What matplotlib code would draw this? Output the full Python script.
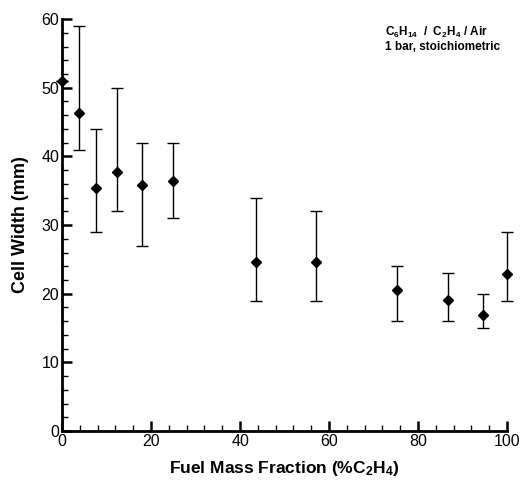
import matplotlib
matplotlib.use('Agg')
import matplotlib.pyplot as plt
from matplotlib.ticker import MultipleLocator

plt.rcParams['font.family'] = ['Liberation Sans', 'DejaVu Sans']
plt.rcParams['mathtext.fontset'] = 'custom'
plt.rcParams['mathtext.rm'] = 'Liberation Sans:bold'
plt.rcParams['mathtext.default'] = 'rm'

# data
fraction = [0, 3.7, 7.7, 12.4, 18.0, 24.9, 43.6, 57.1, 75.2, 86.7, 94.7, 100]
width = [51.0, 46.3, 35.4, 37.7, 35.8, 36.4, 24.6, 24.6, 20.5, 19.1, 16.9, 22.8]
upper = [51.0, 59, 44, 50, 42, 42, 34, 32, 24, 23, 20, 29]
lower = [51.0, 41, 29, 32, 27, 31, 19, 19, 16, 16, 15, 19]

err_lo = [w - l for w, l in zip(width, lower)]
err_hi = [u - w for u, w in zip(upper, width)]

fig = plt.figure(figsize=(5.26, 4.84), dpi=100)
ax = fig.add_axes([0.118, 0.1095, 0.846, 0.851])

ax.errorbar(fraction, width, yerr=[err_lo, err_hi], fmt='D', color='black',
            markersize=5.5, ecolor='black', elinewidth=1, capsize=4,
            capthick=1, clip_on=False, zorder=3)

ax.set_xlim(0, 100)
ax.set_ylim(0, 60)
ax.xaxis.set_major_locator(MultipleLocator(20))
ax.xaxis.set_minor_locator(MultipleLocator(4))
ax.yaxis.set_major_locator(MultipleLocator(10))
ax.yaxis.set_minor_locator(MultipleLocator(2))
ax.tick_params(which='major', direction='in', length=7, width=1.8, labelsize=11.5, pad=2)
ax.tick_params(which='minor', direction='in', length=4, width=1)

for s in ['top', 'right']:
    ax.spines[s].set_visible(False)
for s in ['left', 'bottom']:
    ax.spines[s].set_linewidth(2)

ax.set_xlabel('Fuel Mass Fraction (%C$_2$H$_4$)', fontsize=12.5, fontweight='bold', labelpad=7)
ax.set_ylabel('Cell Width (mm)', fontsize=13, fontweight='bold', labelpad=9)

ax.text(0.725, 0.985, 'C$_6$H$_{14}$  /  C$_2$H$_4$ / Air\n1 bar, stoichiometric',
        transform=ax.transAxes, fontsize=8.5, fontweight='bold', va='top', ha='left',
        linespacing=1.1)

fig.savefig('out.png', dpi=100)
